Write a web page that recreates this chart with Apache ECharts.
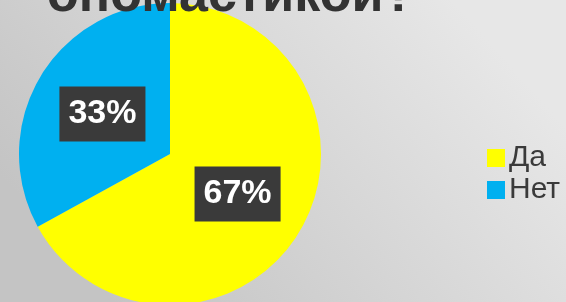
<!DOCTYPE html>
<html>
<head>
<meta charset="utf-8">
<script src="https://cdn.jsdelivr.net/npm/echarts@6/dist/echarts.min.js"></script>
<style>
  html, body { margin: 0; padding: 0; }
  #chart { width: 566px; height: 302px; }
</style>
</head>
<body>
<div id="chart"></div>
<script>
// данные опроса
const categories = ['Да', 'Нет'];
const values = [67, 33];
const sliceColors = ['#ffff00', '#00b0f0'];
const titleText = 'ономастикой?';

const chart = echarts.init(document.getElementById('chart'));

const option = {
  animation: false,
  backgroundColor: new echarts.graphic.LinearGradient(0.8, 0, 0.2, 1, [
    { offset: 0, color: '#e7e7e7' },
    { offset: 1, color: '#c4c4c4' }
  ]),
  color: sliceColors,
  graphic: [
    {
      type: 'text',
      left: 47,
      top: -29,
      z: 100,
      style: {
        text: titleText,
        font: 'bold 52px "Liberation Sans", Arial, sans-serif',
        fill: '#333333'
      }
    }
  ],
  legend: {
    orient: 'vertical',
    left: 482,
    top: 138,
    icon: 'rect',
    itemWidth: 18,
    itemHeight: 18,
    itemGap: 2,
    data: categories,
    textStyle: {
      fontFamily: '"Liberation Sans", Arial, sans-serif',
      fontSize: 30,
      color: '#3a3a3a',
      padding: [0, 0, 0, -1]
    }
  },
  series: [
    {
      type: 'pie',
      center: [170, 154],
      radius: 151,
      startAngle: 90,
      clockwise: true,
      emphasis: { disabled: true },
      label: {
        show: true,
        position: 'inside',
        formatter: '{d}%',
        fontFamily: '"Liberation Sans", Arial, sans-serif',
        fontWeight: 'bold',
        fontSize: 34,
        color: '#ffffff',
        backgroundColor: '#3a3a3a',
        padding: [11, 9, 10, 9]
      },
      labelLine: { show: false },
      data: categories.map((name, i) => ({ name: name, value: values[i] }))
    }
  ]
};

chart.setOption(option);
</script>
</body>
</html>
